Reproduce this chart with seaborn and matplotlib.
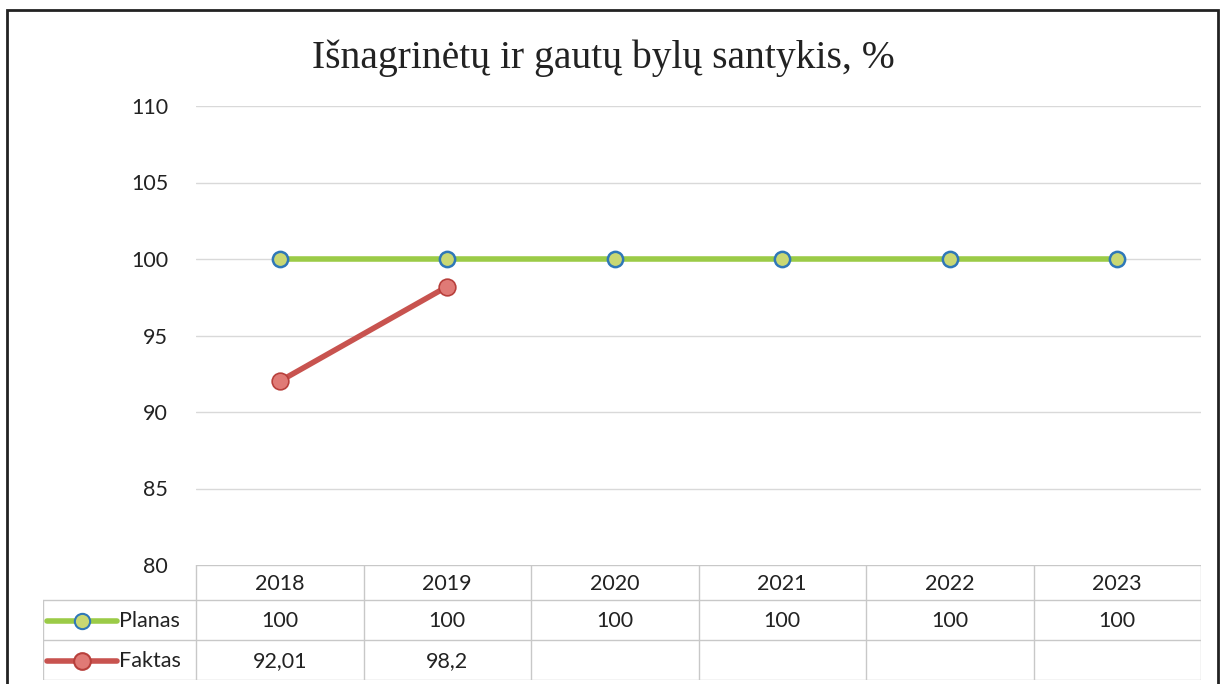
import numpy as np
import pandas as pd
import matplotlib
matplotlib.use("Agg")
import matplotlib.pyplot as plt
import seaborn as sns
from matplotlib.lines import Line2D
from matplotlib.patches import Rectangle

years = ["2018", "2019", "2020", "2021", "2022", "2023"]
planas = [100, 100, 100, 100, 100, 100]
faktas = [92.01, 98.2, np.nan, np.nan, np.nan, np.nan]
planas_txt = ["100", "100", "100", "100", "100", "100"]
faktas_txt = ["92,01", "98,2", "", "", "", ""]
series_names = ["Planas", "Faktas"]
title = "Išnagrinėtų ir gautų bylų santykis, %"
yticks = [80, 85, 90, 95, 100, 105, 110]

sns.set_theme(style="white")
plt.rcParams['font.family'] = ['Lato', 'DejaVu Sans']

W, H = 1221, 684
fig = plt.figure(figsize=(W / 100, H / 100), dpi=100)

def fx(px):
    return px / W

def fy(py):
    return 1 - py / H

left_px, right_px, top_px, bot_px = 196, 1201, 106, 565
ax = fig.add_axes([fx(left_px), fy(bot_px), fx(right_px - left_px), (bot_px - top_px) / H])

df = pd.DataFrame({
    "pos": list(range(len(years))) * 2,
    "value": planas + faktas,
    "series": [series_names[0]] * len(years) + [series_names[1]] * len(years),
})

green = "#9BCB47"
green_fill = "#C9D873"
blue_edge = "#2F78B8"
red = "#C8534F"
red_fill = "#E07A76"
red_edge = "#B8403C"

sns.lineplot(data=df[df.series == "Planas"], x="pos", y="value", ax=ax, color=green,
             linewidth=4, marker="o", markersize=11, markerfacecolor=green_fill,
             markeredgecolor=blue_edge, markeredgewidth=1.8, zorder=3)
sns.lineplot(data=df[df.series == "Faktas"], x="pos", y="value", ax=ax, color=red,
             linewidth=4, marker="o", markersize=12, markerfacecolor=red_fill,
             markeredgecolor=red_edge, markeredgewidth=1.2, zorder=3)

ax.set_xlim(-0.5, len(years) - 0.5)
ax.set_ylim(80, 110)
ax.set_yticks(yticks)
ax.set_yticklabels([str(t) for t in yticks], fontsize=15.5, color="#222222")
ax.set_xticks([])
ax.set_xlabel("")
ax.set_ylabel("")
ax.tick_params(axis="y", length=0, pad=20)
for s in ax.spines.values():
    s.set_visible(False)
for t in yticks[1:]:
    ax.axhline(t, color="#D9D9D9", linewidth=1, zorder=1)
if ax.get_legend():
    ax.get_legend().remove()

# Data table below the axes
col_w = (right_px - left_px) / len(years)
tab_left_px, tab_bot_px = 43, 680
tax = fig.add_axes([fx(tab_left_px), fy(tab_bot_px), fx(right_px - tab_left_px), (tab_bot_px - bot_px) / H])
x0 = -0.5 - (left_px - tab_left_px) / col_w
tax.set_xlim(x0, len(years) - 0.5)
tax.set_ylim(tab_bot_px - bot_px, 0)
tax.axis("off")

gc = "#C8C8C8"
rows_y = [0, 35, 75, 115]
tax.plot([-0.5, len(years) - 0.5], [0, 0], color=gc, lw=1)
for yy in rows_y[1:]:
    tax.plot([x0, len(years) - 0.5], [yy, yy], color=gc, lw=1)
for i in range(len(years) + 1):
    tax.plot([i - 0.5, i - 0.5], [0, 115], color=gc, lw=1)
tax.plot([x0, x0], [35, 115], color=gc, lw=1)

fs = 15.5
for i, y in enumerate(years):
    tax.text(i, 19, y, ha="center", va="center", fontsize=fs, color="#222222")
    tax.text(i, 56, planas_txt[i], ha="center", va="center", fontsize=fs, color="#222222")
    tax.text(i, 96, faktas_txt[i], ha="center", va="center", fontsize=fs, color="#222222")

def px2x(px):
    return -0.5 - (left_px - px) / col_w

for (label, yy, lc, mf, me, ms) in [
    ("Planas", 56, green, green_fill, blue_edge, 11),
    ("Faktas", 96, red, red_fill, red_edge, 12),
]:
    tax.add_line(Line2D([px2x(47), px2x(117)], [yy, yy], color=lc, lw=4))
    tax.add_line(Line2D([px2x(82)], [yy], marker="o", markersize=ms, markerfacecolor=mf,
                        markeredgecolor=me, markeredgewidth=1.5, lw=0))
    tax.text(px2x(119), yy, label, ha="left", va="center", fontsize=fs, color="#222222")

fig.text(0.494, fy(58), title, ha="center", va="center", fontsize=28.5,
         family=["Liberation Serif", "DejaVu Serif"], color="#222222")

# chart border
fig.patches.append(Rectangle((fx(7), -0.05), fx(1218 - 7), fy(10) + 0.05,
                             transform=fig.transFigure, fill=False,
                             edgecolor="#222222", linewidth=2))

fig.savefig("out.png", dpi=100, facecolor="white")
